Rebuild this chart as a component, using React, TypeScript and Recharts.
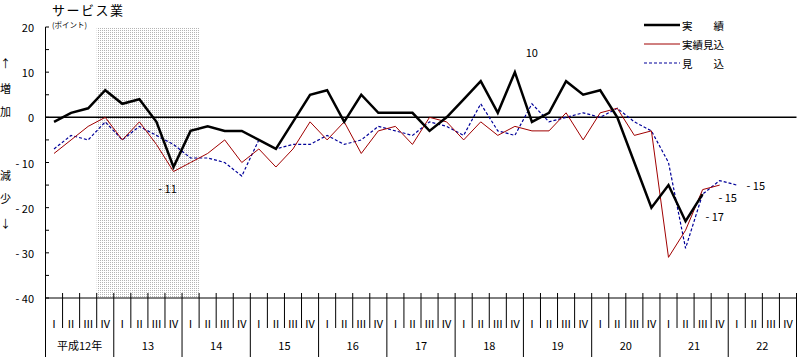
import { LineChart, Line, XAxis, YAxis, ReferenceArea, ReferenceLine } from "recharts";

// 平成12年〜22年 四半期
const years = ["平成12年", "13", "14", "15", "16", "17", "18", "19", "20", "21", "22"];
const quarters = ["Ⅰ", "Ⅱ", "Ⅲ", "Ⅳ"];

// 実績
const actual = [
  -1, 1, 2, 6,
  3, 4, -1, -11,
  -3, -2, -3, -3,
  -5, -7, -1, 5,
  6, -1, 5, 1,
  1, 1, -3, 0,
  4, 8, 1, 10,
  -1, 1, 8, 5,
  6, 0, -10, -20,
  -15, -23, -17, null,
  null, null, null, null,
];

// 実績見込
const actualEst = [
  -8, -5, -2, 0,
  -5, -1, -6, -12,
  -10, -8, -5, -10,
  -7, -11, -7, -1,
  -5, -1, -8, -3,
  -2, -6, 0, -1,
  -5, -1, -4, -2,
  -3, -3, 1, -5,
  1, 2, -4, -3,
  -31, -25, -16, -15,
  null, null, null, null,
];

// 見込
const forecast = [
  -7, -4, -5, -1,
  -5, -2, -4, -6,
  -9, -9, -10, -13,
  -5, -7, -6, -6,
  -4, -6, -5, -2,
  -3, -4, -1, -2,
  -4, 3, -3, -4,
  3, -1, 0, 1,
  0, 2, -1, -3,
  -10, -29, -17, -14,
  -15, null, null, null,
];

const yTicks = [20, 15, 10, 5, 0, -5, -10, -15, -20, -25, -30, -35, -40];

const data = years.flatMap((year, yi) =>
  quarters.map((q, qi) => {
    const i = yi * 4 + qi;
    return { key: `${yi}-${qi}`, year, q, qi, actual: actual[i], est: actualEst[i], forecast: forecast[i] };
  })
);

const W = 798;
const H = 357;
const LEFT = 45.5;
const RIGHT = 796.5;
const TOP = 27;
const AXIS_Y = 298;
const BW = (RIGHT - LEFT) / data.length;

const fmt = (v: number) => (v < 0 ? `- ${Math.abs(v)}` : `${v}`);

function QuarterTick(props: any) {
  const { x, payload } = props;
  const i = data.findIndex((d) => d.key === payload.value);
  if (i < 0) return null;
  const d = data[i];
  const left = x - BW / 2;
  return (
    <g>
      <line x1={left} x2={left} y1={AXIS_Y - 5} y2={d.qi === 0 ? H : 328} stroke="#000" />
      {i === data.length - 1 && (
        <line x1={x + BW / 2} x2={x + BW / 2} y1={AXIS_Y - 5} y2={H} stroke="#000" />
      )}
      <text x={x} y={323} textAnchor="middle" dominantBaseline="central" fontSize={11} fill="#000">
        {d.q}
      </text>
      {d.qi === 1 && (
        <text x={x + BW / 2} y={345} textAnchor="middle" dominantBaseline="central" fontSize={11} fill="#000">
          {d.year}
        </text>
      )}
    </g>
  );
}

function ValueTick(props: any) {
  const { y, payload } = props;
  const v = payload.value as number;
  return (
    <g>
      <line x1={LEFT} x2={LEFT + 3.5} y1={y} y2={y} stroke="#000" />
      {v % 10 === 0 && (
        <text x={34} y={y} textAnchor="end" dominantBaseline="central" fontSize={11} fill="#000">
          {fmt(v)}
        </text>
      )}
    </g>
  );
}

// the shaded span covers whole quarters, so widen it by half a band each side
const BandShade = (p: any) => (
  <rect x={p.x - BW / 2} y={p.y} width={p.width + BW} height={p.height} fill="url(#dots)" />
);

type Mark = { dx: number; dy: number };
const makeLabel = (marks: Record<number, Mark>) => (p: any) => {
  const m = marks[p.index];
  if (!m || p.value == null) return null;
  return (
    <text key={p.index} x={p.x + m.dx} y={p.y + m.dy} textAnchor="middle" dominantBaseline="central" fontSize={11} fill="#000">
      {fmt(p.value)}
    </text>
  );
};

const sideLabels = [
  { t: "↑", y: 63 },
  { t: "増", y: 88 },
  { t: "加", y: 111 },
  { t: "減", y: 175 },
  { t: "少", y: 198 },
  { t: "↓", y: 223 },
];

const legendItems = [
  { name: "実　　績", color: "#000", width: 2.5, dash: undefined, y: 25 },
  { name: "実績見込", color: "#a00000", width: 1, dash: undefined, y: 44 },
  { name: "見　　込", color: "#000099", width: 1.2, dash: "3 2", y: 63 },
];

export default function App() {
  return (
    <div
      style={{
        position: "absolute",
        left: 0,
        top: 0,
        width: W,
        height: H,
        background: "#fff",
        fontFamily: "'Noto Sans CJK JP', sans-serif",
      }}
    >
      <LineChart width={W} height={H} data={data} margin={{ top: TOP, right: W - RIGHT, bottom: 0, left: 0 }}>
        <defs>
          <pattern id="dots" width="2" height="2" patternUnits="userSpaceOnUse">
            <rect x="0" y="0" width="1" height="1" fill="#b4b4b4" />
          </pattern>
        </defs>
        <XAxis
          dataKey="key"
          height={H - AXIS_Y}
          interval={0}
          padding={{ left: BW / 2, right: BW / 2 }}
          tickLine={false}
          axisLine={{ stroke: "#000" }}
          tick={<QuarterTick />}
        />
        <YAxis
          domain={[-40, 20]}
          ticks={yTicks}
          interval={0}
          width={LEFT}
          tickLine={false}
          axisLine={{ stroke: "#000" }}
          tick={<ValueTick />}
        />
        <ReferenceArea x1={data[3].key} x2={data[8].key} shape={BandShade} fillOpacity={1} stroke="none" />
        <ReferenceLine y={0} stroke="#000" strokeWidth={1.5} />
        <Line
          dataKey="forecast"
          type="linear"
          stroke="#000099"
          strokeWidth={1.2}
          strokeDasharray="3 2"
          dot={false}
          isAnimationActive={false}
          label={makeLabel({ 40: { dx: 19, dy: 0 } })}
        />
        <Line
          dataKey="est"
          type="linear"
          stroke="#a00000"
          strokeWidth={1}
          dot={false}
          isAnimationActive={false}
          label={makeLabel({ 39: { dx: 8, dy: 12 } })}
        />
        <Line
          dataKey="actual"
          type="linear"
          stroke="#000"
          strokeWidth={2.5}
          dot={false}
          isAnimationActive={false}
          label={makeLabel({ 7: { dx: -6, dy: 21 }, 27: { dx: 17, dy: -20 }, 38: { dx: 12, dy: 22 } })}
        />
      </LineChart>

      <div style={{ position: "absolute", left: 52, top: 0, fontSize: 13, lineHeight: "19px", letterSpacing: 1.5 }}>
        サービス業
      </div>
      <div style={{ position: "absolute", left: 52, top: 19, fontSize: 7.5, lineHeight: "11px" }}>(ポイント)</div>

      {sideLabels.map((s) => (
        <div
          key={s.t + s.y}
          style={{ position: "absolute", left: 0, top: s.y - 7, width: 11, textAlign: "center", fontSize: 11, lineHeight: "14px" }}
        >
          {s.t}
        </div>
      ))}

      <svg style={{ position: "absolute", left: 0, top: 0, pointerEvents: "none" }} width={W} height={80}>
        {legendItems.map((l) => (
          <g key={l.name}>
            <line x1={644} x2={680} y1={l.y} y2={l.y} stroke={l.color} strokeWidth={l.width} strokeDasharray={l.dash} />
            <text x={682} y={l.y} dominantBaseline="central" fontSize={10.5} fill="#000">
              {l.name}
            </text>
          </g>
        ))}
      </svg>
    </div>
  );
}
